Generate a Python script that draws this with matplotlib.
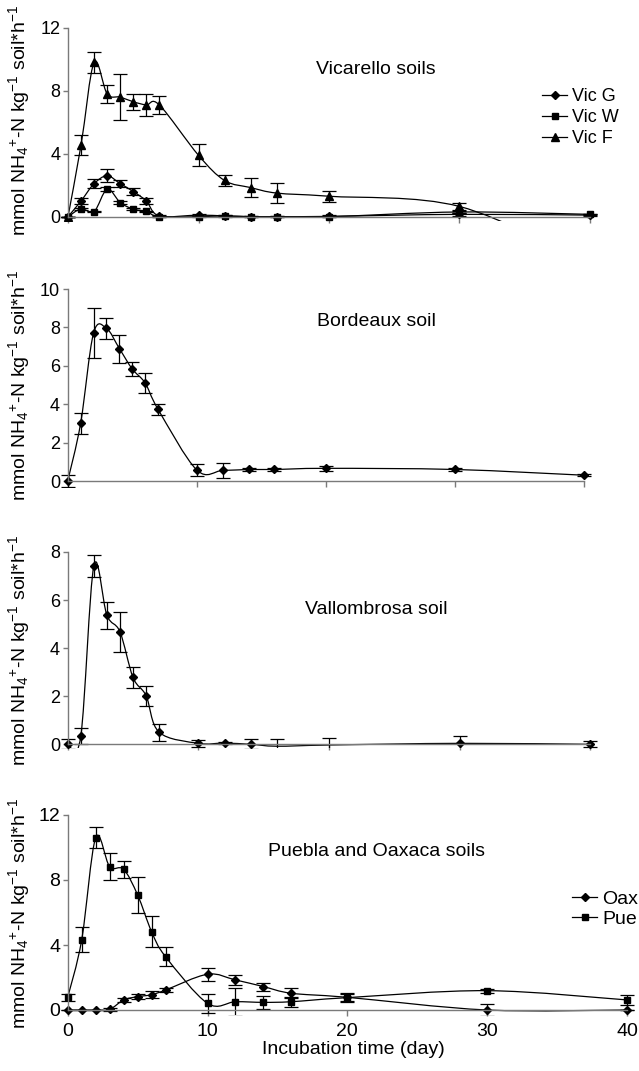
import numpy as np
import matplotlib
matplotlib.use('Agg')
import matplotlib.pyplot as plt
from matplotlib.path import Path
from matplotlib.patches import PathPatch
from matplotlib.lines import Line2D

plt.rcParams['font.family'] = ['Liberation Sans', 'DejaVu Sans']
plt.rcParams['mathtext.fontset'] = 'custom'
plt.rcParams['mathtext.rm'] = 'Liberation Sans'
plt.rcParams['mathtext.it'] = 'Liberation Sans:italic'
plt.rcParams['mathtext.bf'] = 'Liberation Sans:bold'

# incubation days (same sampling in every panel)
days = [0, 1, 2, 3, 4, 5, 6, 7, 10, 12, 14, 16, 20, 30, 40]

# Vicarello soils
vic_g = [0, 1.0, 2.1, 2.6, 2.1, 1.6, 1.0, 0.05, 0.1, 0.05, 0.0, 0.0, 0.02, 0.15, 0.1]
vic_g_err = [0, 0.2, 0.3, 0.4, 0.2, 0.25, 0.2, 0.05, 0.08, 0.05, 0.04, 0.04, 0.06, 0.1, 0.08]
vic_w = [0, 0.5, 0.33, 1.75, 0.9, 0.48, 0.34, 0.0, 0.0, 0.05, 0.0, 0.0, 0.0, 0.3, 0.15]
vic_w_err = [0, 0.08, 0.06, 0.12, 0.08, 0.06, 0.05, 0.03, 0.03, 0.03, 0.03, 0.03, 0.03, 0.06, 0.05]
# last Vic F value lies below the axis (only the line end is visible)
vic_f = [0, 4.55, 9.8, 7.8, 7.6, 7.3, 7.1, 7.1, 3.9, 2.3, 1.85, 1.5, 1.3, 0.65, -3.0]
vic_f_err = [0, 0.65, 0.65, 0.55, 1.45, 0.5, 0.7, 0.55, 0.7, 0.35, 0.6, 0.65, 0.35, 0.25, 0]

# Bordeaux soil
bdx = [0, 3.0, 7.7, 7.95, 6.9, 5.83, 5.1, 3.73, 0.57, 0.55, 0.6, 0.6, 0.66, 0.6, 0.3]
bdx_err = [0.3, 0.55, 1.3, 0.55, 0.73, 0.35, 0.52, 0.27, 0.32, 0.37, 0.1, 0.1, 0.12, 0.1, 0.05]

# Vallombrosa soil
val = [0, 0.33, 7.42, 5.37, 4.68, 2.78, 2.02, 0.5, 0.04, 0.05, 0.0, -0.08, -0.03, 0.04, 0.0]
val_err = [0.2, 0.33, 0.47, 0.57, 0.84, 0.42, 0.42, 0.35, 0.15, 0.03, 0.2, 0.3, 0.28, 0.3, 0.12]

# Puebla and Oaxaca soils
oax = [0, 0, 0, 0.04, 0.62, 0.82, 0.94, 1.23, 2.2, 1.85, 1.44, 1.03, 0.78, 0, 0]
oax_err = [0, 0, 0, 0.1, 0.1, 0.15, 0.22, 0.15, 0.39, 0.3, 0.25, 0.3, 0.25, 0.35, 0]
pue = [0.78, 4.31, 10.6, 8.82, 8.66, 7.08, 4.82, 3.28, 0.41, 0.51, 0.47, 0.51, 0.76, 1.19, 0.62]
pue_err = [0.2, 0.77, 0.65, 0.84, 0.54, 1.09, 0.96, 0.58, 0.6, 0.87, 0.4, 0.3, 0.25, 0.12, 0.3]

ylab = r'mmol NH$_4$$^{+}$-N kg$^{-1}$ soil*h$^{-1}$'

W, H = 639, 1071
fig = plt.figure(figsize=(W / 100, H / 100), dpi=100)

AXC = '#7a7a7a'


def make_ax(x0, x40, y0, ytop, top, ymin, ticks, labels=False, fs=13):
    # place axes so that data (0,0) and (40,top) land on the given pixels
    ppd = (x40 - x0) / 40.0
    ppu = (y0 - ytop) / float(top)
    xl, xr = -0.8, 40.8
    ymax = top + 0.4
    lpx = x0 + xl * ppd
    rpx = x0 + xr * ppd
    bpx = y0 - ymin * ppu
    tpx = y0 - ymax * ppu
    ax = fig.add_axes([lpx / W, 1 - bpx / H, (rpx - lpx) / W, (bpx - tpx) / H])
    ax.set_xlim(xl, xr)
    ax.set_ylim(ymin, ymax)
    ax.patch.set_alpha(0)
    for s in ['top', 'right']:
        ax.spines[s].set_visible(False)
    ax.spines['left'].set_position(('data', 0))
    ax.spines['bottom'].set_position(('data', 0))
    ax.spines['left'].set_bounds(0, top)
    ax.spines['bottom'].set_bounds(0, 40)
    for s in ['left', 'bottom']:
        ax.spines[s].set_color(AXC)
        ax.spines[s].set_linewidth(1.0)
    ax.set_yticks(ticks)
    ax.set_xticks([0, 10, 20, 30, 40])
    ax.tick_params(axis='both', direction='out', color=AXC, width=1.0,
                   labelsize=fs, labelcolor='black')
    ax.tick_params(axis='y', length=3.5, pad=2)
    ax.tick_params(axis='x', length=4.5, pad=5, labelbottom=labels)
    return ax


def smooth(ax, x, y):
    # smoothed line through the points (cubic Bezier segments)
    pts = np.column_stack([x, y]).astype(float)
    n = len(pts)
    verts = [pts[0]]
    codes = [Path.MOVETO]
    for i in range(n - 1):
        p0 = pts[max(i - 1, 0)]
        p1 = pts[i]
        p2 = pts[i + 1]
        p3 = pts[min(i + 2, n - 1)]
        verts += [p1 + (p2 - p0) / 6.0, p2 - (p3 - p1) / 6.0, p2]
        codes += [Path.CURVE4] * 3
    ax.add_patch(PathPatch(Path(verts, codes), fill=False, edgecolor='black', lw=0.9))


def series(ax, y, err, marker, ms):
    y = np.asarray(y, float)
    err = np.asarray(err, float)
    x = np.asarray(days, float)
    smooth(ax, x, y)
    ax.errorbar(x, y, yerr=err, fmt='none', ecolor='black', elinewidth=0.9,
                capsize=5, capthick=0.9)
    vis = y >= 0
    ax.plot(x[vis], y[vis], linestyle='none', marker=marker, ms=ms,
            color='black', mec='black')


def handles(specs):
    return [Line2D([], [], color='black', lw=0.9, marker=m, ms=s, label=l)
            for l, m, s in specs]


# panel 1 - Vicarello
ax1 = make_ax(68, 590, 216.7, 27.8, 12, -0.3, [0, 4, 8, 12])
series(ax1, vic_f, vic_f_err, '^', 5.5)
series(ax1, vic_g, vic_g_err, 'D', 4.2)
series(ax1, vic_w, vic_w_err, 's', 4.5)
ax1.legend(handles=handles([('Vic G', 'D', 4.2), ('Vic W', 's', 4.5), ('Vic F', '^', 5.5)]),
           loc='upper left', bbox_to_anchor=(542 / W, 1 - 88 / H),
           bbox_transform=fig.transFigure, frameon=False, fontsize=13,
           borderpad=0, borderaxespad=0, handlelength=1.4, handletextpad=0.25,
           labelspacing=0.22)
fig.text(376 / W, 1 - 70 / H, 'Vicarello soils', ha='center', va='center', fontsize=14)

# panel 2 - Bordeaux
ax2 = make_ax(67.7, 584.3, 481, 289, 10, -0.3, [0, 2, 4, 6, 8, 10])
series(ax2, bdx, bdx_err, 'D', 4.2)
fig.text(376 / W, 1 - 321 / H, 'Bordeaux soil', ha='center', va='center', fontsize=14)

# panel 3 - Vallombrosa
ax3 = make_ax(67.7, 590.4, 744.3, 552, 8, -0.15, [0, 2, 4, 6, 8])
series(ax3, val, val_err, 'D', 4.2)
fig.text(376 / W, 1 - 609 / H, 'Vallombrosa soil', ha='center', va='center', fontsize=14)

# panel 4 - Puebla and Oaxaca
ax4 = make_ax(67.7, 627, 1010, 815, 12, -0.3, [0, 4, 8, 12], labels=True, fs=14)
series(ax4, oax, oax_err, 'D', 4.2)
series(ax4, pue, pue_err, 's', 4.5)
ax4.legend(handles=handles([('Oax', 'D', 4.2), ('Pue', 's', 4.5)]),
           loc='upper left', bbox_to_anchor=(572 / W, 1 - 890 / H),
           bbox_transform=fig.transFigure, frameon=False, fontsize=14,
           borderpad=0, borderaxespad=0, handlelength=1.3, handletextpad=0.25,
           labelspacing=0.15)
fig.text(376 / W, 1 - 852 / H, 'Puebla and Oaxaca soils', ha='center', va='center', fontsize=14)
fig.text(353 / W, 1 - 1050 / H, 'Incubation time (day)', ha='center', va='center', fontsize=14)

for yc in [120, 385, 650, 913]:
    fig.text(19 / W, 1 - yc / H, ylab, rotation=90, ha='center', va='center', fontsize=14)

fig.savefig('out.png', dpi=100)
